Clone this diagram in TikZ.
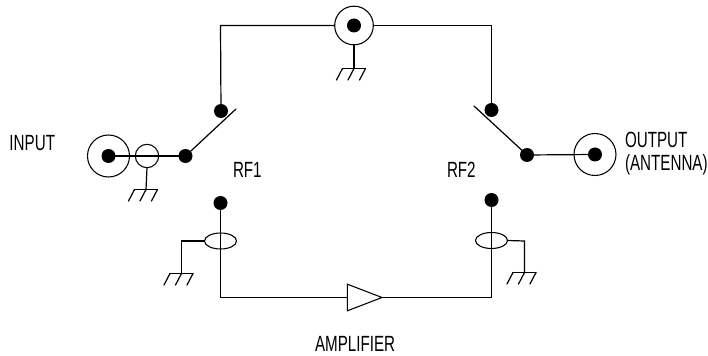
\documentclass[tikz,border=0pt]{standalone}
\usepackage{fontspec}
\setmainfont[FakeStretch=0.69]{Liberation Sans}
\usetikzlibrary{shapes.geometric}
\tikzset{
  wire/.style={line width=0.9pt,line cap=round,line join=miter,black},
  dot/.style={circle,fill=black,draw=none,minimum size=10.5pt,inner sep=0pt,outer sep=0pt},
  coax/.style={circle,draw=black,line width=0.8pt,inner sep=0pt,outer sep=0pt},
  bead/.style={ellipse,draw=black,line width=0.8pt,inner sep=0pt,outer sep=0pt,minimum width=24pt,minimum height=12pt},
  lbl/.style={inner sep=0pt,outer sep=0pt,font=\fontsize{16.5pt}{17.5pt}\selectfont,align=left,text=black},
  ampbox/.style={isosceles triangle,isosceles triangle apex angle=42,draw=black,line width=0.8pt,inner sep=0pt,outer sep=0pt,minimum height=26pt,fill=white}
}
\newcommand{\gnd}[1]{%
  \draw[wire] (#1) ++(-11.5,0) -- ++(23,0);
  \draw[wire] (#1) ++(-11.5,0) -- ++(-6,11.5);
  \draw[wire] (#1) -- ++(-6,11.5);
  \draw[wire] (#1) ++(11.5,0) -- ++(-6,11.5);
}
\begin{document}
\begin{tikzpicture}[x=0.75pt,y=-0.75pt]
\useasboundingbox (0,0) rectangle (708,356);
% connectors
\node[coax,minimum size=31.5pt] (inC) at (108.5,156) {};
\node[coax,minimum size=17.5pt] (inB) at (147,156) {};
\node[coax,minimum size=29pt] (topC) at (354,25.5) {};
\node[coax,minimum size=31.5pt] (outC) at (595,154.5) {};
\node[dot] (inD) at (108.5,156) {};
\node[dot] (sw1) at (185.5,156) {};
\node[dot] (t1) at (221,111) {};
\node[dot] (b1) at (220.5,203) {};
\node[dot] (topD) at (354,25.5) {};
\node[dot] (t2) at (491.5,110) {};
\node[dot] (b2) at (491.5,200) {};
\node[dot] (sw2) at (527,155) {};
\node[dot] (outD) at (595,154.5) {};
\node[bead] (e1) at (220.5,241) {};
\node[bead] (e2) at (491.5,240.5) {};
\node[ampbox] (amp) at (356.5,297.5) {};
% coordinates
\coordinate (g1) at (146,189.5);
\coordinate (g2) at (354,68.5);
\coordinate (g3) at (181.5,273.5);
\coordinate (g4) at (524.5,272.5);
\coordinate (c1) at (220.5,25.5);
\coordinate (c2) at (491.5,25.5);
\coordinate (c3) at (220.5,297.5);
\coordinate (c4) at (491.5,297.5);
\coordinate (s1) at (236,109);
\coordinate (s2) at (474,106);
\coordinate (k1) at (181.5,241);
\coordinate (k2) at (524.5,241);
% wires
\draw[wire] (inD.center) -- (sw1.center);
\draw[wire] (sw1.center) -- (s1);
\draw[wire] (t1.center) -- (c1) -- (topC.west);
\draw[wire] (topC.east) -- (c2) -- (t2.center);
\draw[wire] (topC.south) -- (g2);
\draw[wire] (inB.south) -- (g1);
\draw[wire] (b1.center) -- (c3) -- (amp.west);
\draw[wire] (amp.east) -- (c4) -- (b2.center);
\draw[wire] (e1.west) -- (k1) -- (g3);
\draw[wire] (e2.east) -- (k2) -- (g4);
\draw[wire] (s2) -- (sw2.center);
\draw[wire] (sw2.center) -- (outD.center);
\gnd{g1}\gnd{g2}\gnd{g3}\gnd{g4}
% labels
\node[lbl,anchor=west] (tIn) at (9.5,143) {INPUT};
\node[lbl,anchor=west] (tOut) at (625,153.5) {OUTPUT\\(ANTENNA)};
\node[lbl,anchor=west] (tR1) at (233,170) {RF1};
\node[lbl,anchor=west] (tR2) at (447,170) {RF2};
\node[lbl,anchor=west] (tA) at (315,343.5) {AMPLIFIER};
\end{tikzpicture}
\end{document}
